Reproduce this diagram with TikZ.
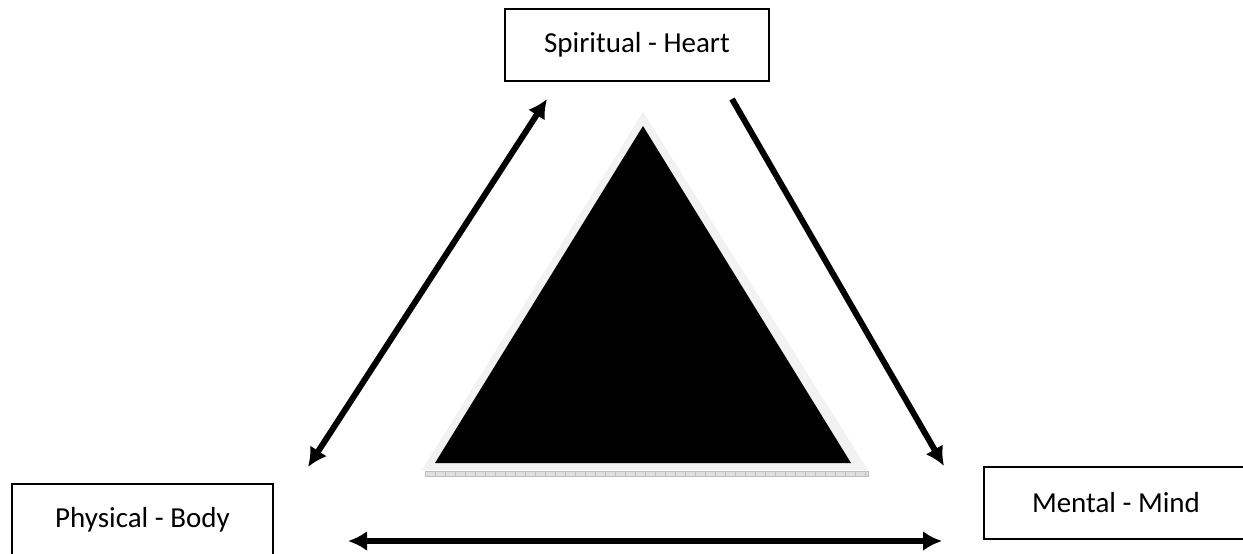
\documentclass[tikz,border=0pt]{standalone}
\usepackage{fontspec}
\setmainfont{Carlito}
\usepackage{xcolor}
\usetikzlibrary{arrows.meta}
\usetikzlibrary{math}
\definecolor{mygrey}{RGB}{242,242,242}
\definecolor{myruler}{RGB}{190,190,190}

\tikzset{
  aspect/.style={draw=black, line width=2pt, fill=white, minimum width=264pt,
    minimum height=72pt, inner sep=0pt, font=\fontsize{29}{34}\selectfont},
  link/.style={line width=6pt, -{Latex[length=19pt,width=20pt]}},
  twolink/.style={line width=6pt, {Latex[length=19pt,width=20pt]}-{Latex[length=19pt,width=20pt]}}
}

\begin{document}
\begin{tikzpicture}[x=1pt,y=-1pt]
\tikzmath{
\W=1243; \H=554;
}
\useasboundingbox (0,0) rectangle (\W,\H);

% triangle in the middle
\fill[mygrey] (643,112) -- (868,470) -- (422,470) -- cycle;
\fill[black] (643,126) -- (851,463) -- (435,463) -- cycle;
\fill[myruler!50] (425,471) rectangle (868,476);
\draw[myruler, line width=0.8pt] (425,471) rectangle (868,476);
\foreach \i in {0,...,44}{
  \draw[myruler, line width=0.5pt] (425+\i*10,471) -- (425+\i*10,476);
}

% the three boxes
\node[aspect] (heart) at (637,45) {Spiritual - Heart};
\node[aspect, minimum width=261pt] (body) at (142.5,520) {Physical - Body};
\node[aspect] (mind) at (1116,503) {Mental - Mind};

% arrow ends
\coordinate (HB) at (547,99);
\coordinate (BH) at (308,467);
\coordinate (HM) at (732,99);
\coordinate (MH) at (944,466);
\coordinate (BM) at (348,541);
\coordinate (MB) at (942,541);

\draw[twolink] (HB) -- (BH);
\draw[link] (HM) -- (MH);
\draw[twolink] (BM) -- (MB);

\end{tikzpicture}
\end{document}
